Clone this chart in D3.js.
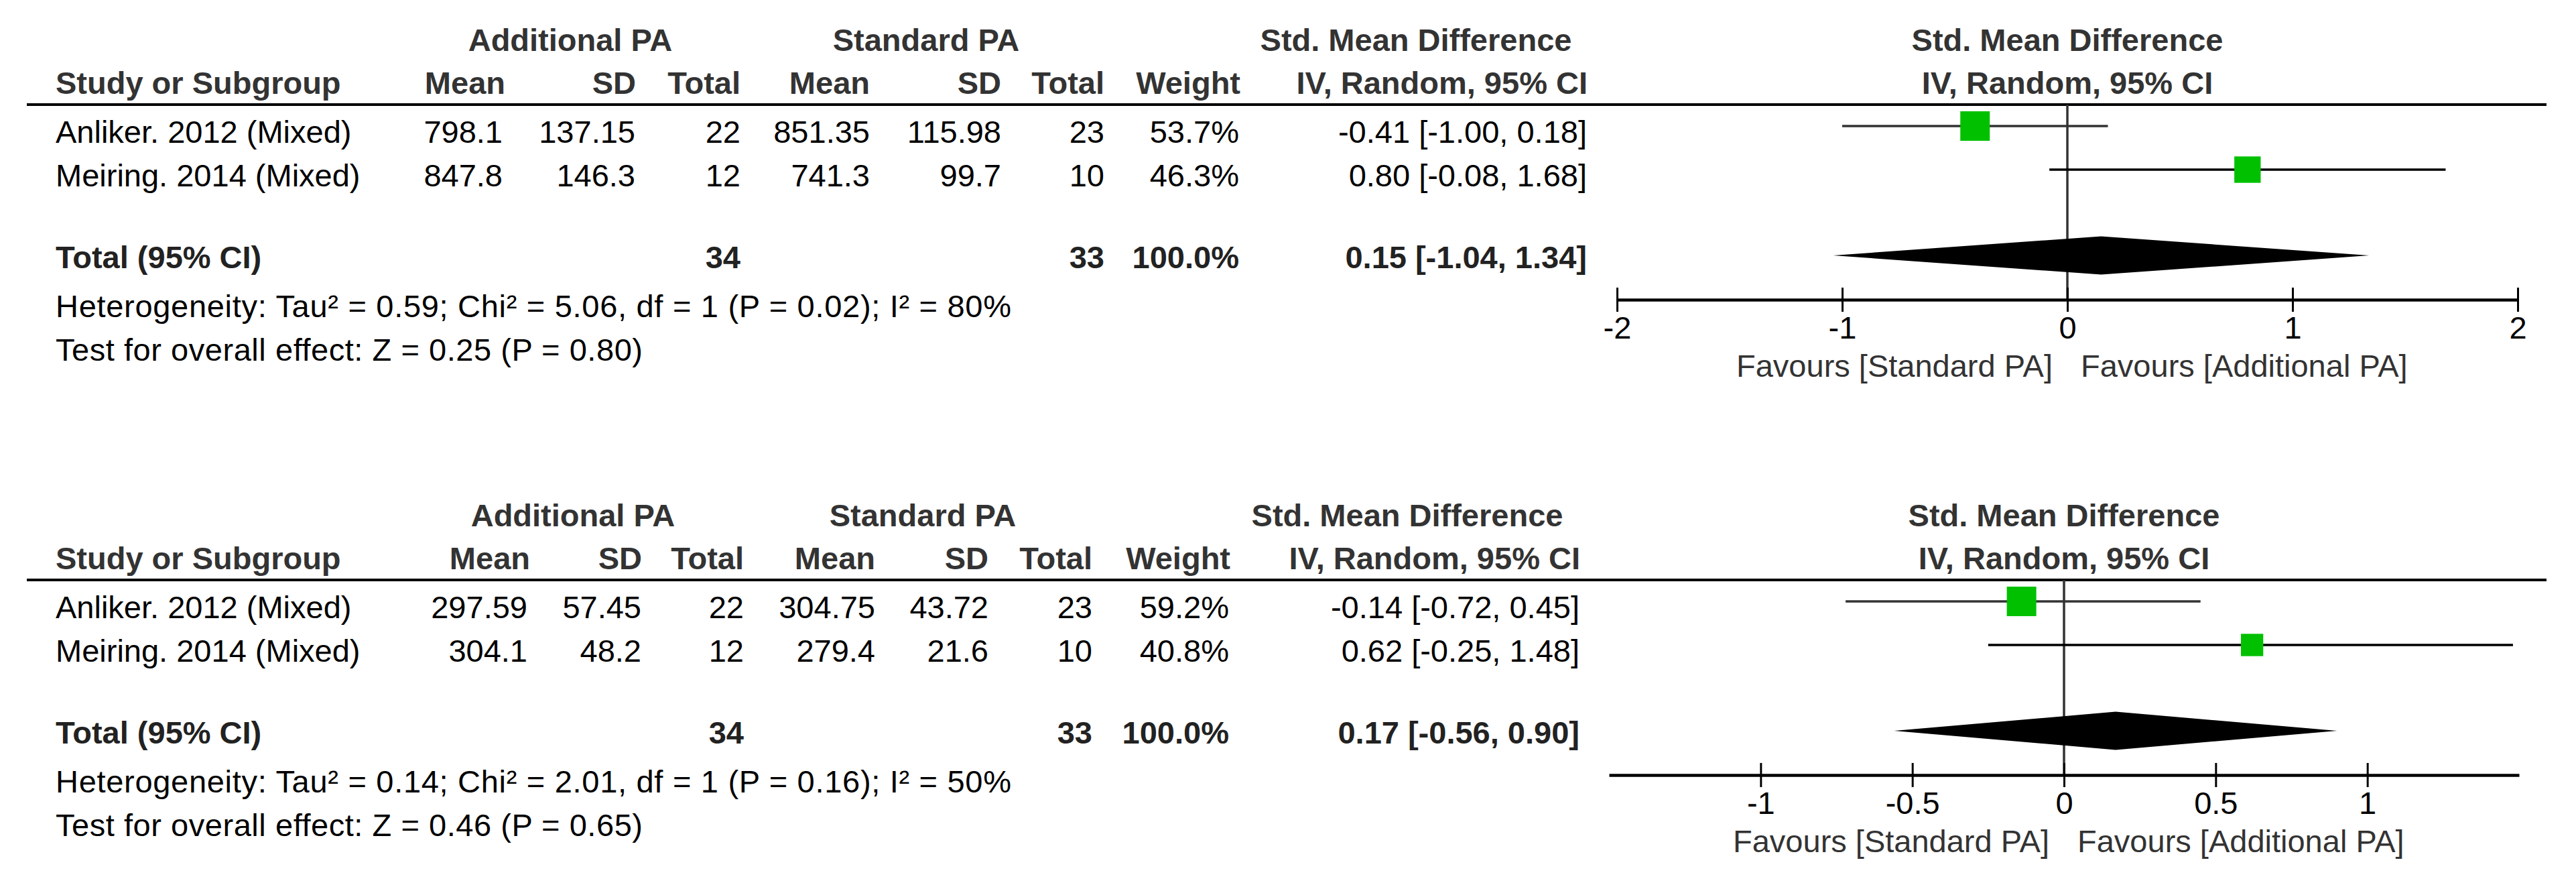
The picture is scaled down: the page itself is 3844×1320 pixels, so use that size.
<!DOCTYPE html>
<html>
<head>
<meta charset="utf-8">
<title>Forest plots</title>
<script src="https://cdn.jsdelivr.net/npm/d3@7"></script>
<style>
body { margin: 0; background: #fff; }
text { font-family: "Liberation Sans", Arial, sans-serif; font-size: 47px; }
.hd { font-weight: bold; fill: #333; }
.bd { font-weight: bold; fill: #222; }
.fav { fill: #333; }
</style>
</head>
<body>
<script>
// ---- data ----
var studies = ["Anliker. 2012 (Mixed)", "Meiring. 2014 (Mixed)"];

// first outcome
var addMean1 = [798.1, 847.8];
var addSD1 = [137.15, 146.3];
var addN1 = [22, 12];
var stdMean1 = [851.35, 741.3];
var stdSD1 = [115.98, 99.7];
var stdN1 = [23, 10];
var weight1 = [53.7, 46.3];
var smd1 = [-0.41, 0.80];
var lo1 = [-1.00, -0.08];
var hi1 = [0.18, 1.68];
var pooled1 = [0.15, -1.04, 1.34]; // est, lo, hi
var totals1 = [34, 33, 100.0];
var het1 = "Heterogeneity: Tau² = 0.59; Chi² = 5.06, df = 1 (P = 0.02); I² = 80%";
var test1 = "Test for overall effect: Z = 0.25 (P = 0.80)";
var ticks1 = [-2, -1, 0, 1, 2];
var domain1 = [-2, 2];

// second outcome
var addMean2 = [297.59, 304.1];
var addSD2 = [57.45, 48.2];
var addN2 = [22, 12];
var stdMean2 = [304.75, 279.4];
var stdSD2 = [43.72, 21.6];
var stdN2 = [23, 10];
var weight2 = [59.2, 40.8];
var smd2 = [-0.14, 0.62];
var lo2 = [-0.72, -0.25];
var hi2 = [0.45, 1.48];
var pooled2 = [0.17, -0.56, 0.90];
var totals2 = [34, 33, 100.0];
var het2 = "Heterogeneity: Tau² = 0.14; Chi² = 2.01, df = 1 (P = 0.16); I² = 50%";
var test2 = "Test for overall effect: Z = 0.46 (P = 0.65)";
var ticks2 = [-1, -0.5, 0, 0.5, 1];
var domain2 = [-1.5, 1.5];

var width = 3844, height = 1320;
var svg = d3.select('body').append('svg').attr('width', width).attr('height', height);
var loc = d3.formatLocale({decimal: '.', thousands: ',', grouping: [3], currency: ['', ''], minus: '-'});
var f2 = loc.format('.2f'), f1 = loc.format('.1f');

function drawPanel(p) {
	var g = svg.append('g').attr('transform', 'translate(0,' + p.dy + ')');
	var c = p.cols;

	// header rows
	function hd(txt, x, y, anchor) {
		g.append('text').attr('class', 'hd').attr('x', x).attr('y', y)
			.attr('text-anchor', anchor).text(txt);
	}
	hd('Additional PA', c.addC, 76, 'middle');
	hd('Standard PA', c.stdC, 76, 'middle');
	hd('Std. Mean Difference', c.smdC, 76, 'middle');
	hd('Std. Mean Difference', p.x(0), 76, 'middle');
	hd('Study or Subgroup', 83, 140, 'start');
	hd('Mean', c.am + 4, 140, 'end');
	hd('SD', c.as + 1, 140, 'end');
	hd('Total', c.an, 140, 'end');
	hd('Mean', c.sm, 140, 'end');
	hd('SD', c.ss, 140, 'end');
	hd('Total', c.sn, 140, 'end');
	hd('Weight', c.w + 2, 140, 'end');
	hd('IV, Random, 95% CI', c.ci + 1, 140, 'end');
	hd('IV, Random, 95% CI', p.x(0), 140, 'middle');

	g.append('line').attr('x1', 40).attr('x2', 3800).attr('y1', 156).attr('y2', 156)
		.attr('stroke', '#000').attr('stroke-width', 4);

	var y = d3.scalePoint().domain(studies).range([188, 253]);

	// study rows text
	var cells = [
		{v: p.am, x: c.am}, {v: p.as, x: c.as}, {v: p.an, x: c.an},
		{v: p.sm, x: c.sm}, {v: p.ss, x: c.ss}, {v: p.sn, x: c.sn}
	];
	studies.forEach(function(s, i) {
		var by = y(s) + 25;
		g.append('text').attr('x', 83).attr('y', by).text(s);
		cells.forEach(function(cl) {
			g.append('text').attr('x', cl.x).attr('y', by).attr('text-anchor', 'end').text(String(cl.v[i]));
		});
		g.append('text').attr('x', c.w).attr('y', by).attr('text-anchor', 'end').text(f1(p.w[i]) + '%');
		g.append('text').attr('x', c.ci).attr('y', by).attr('text-anchor', 'end')
			.text(f2(p.smd[i]) + ' [' + f2(p.lo[i]) + ', ' + f2(p.hi[i]) + ']');
	});

	// totals
	g.append('text').attr('class', 'bd').attr('x', 83).attr('y', 400).text('Total (95% CI)');
	g.append('text').attr('class', 'bd').attr('x', c.an).attr('y', 400).attr('text-anchor', 'end').text(p.tot[0]);
	g.append('text').attr('class', 'bd').attr('x', c.sn).attr('y', 400).attr('text-anchor', 'end').text(p.tot[1]);
	g.append('text').attr('class', 'bd').attr('x', c.w).attr('y', 400).attr('text-anchor', 'end').text(f1(p.tot[2]) + '%');
	g.append('text').attr('class', 'bd').attr('x', c.ci).attr('y', 400).attr('text-anchor', 'end')
		.text(f2(p.pooled[0]) + ' [' + f2(p.pooled[1]) + ', ' + f2(p.pooled[2]) + ']');
	g.append('text').attr('x', 83).attr('y', 473).attr('textLength', 1426).text(p.het);
	g.append('text').attr('x', 83).attr('y', 538).attr('textLength', 876).text(p.test);

	// forest
	var x = p.x;
	g.append('line').attr('x1', x(0)).attr('x2', x(0)).attr('y1', 156).attr('y2', 447)
		.attr('stroke', '#333').attr('stroke-width', 3.5);

	var lineCol = ['#333', '#000'];
	var maxW = d3.max(p.w);
	var box = d3.scalePow().exponent(0.75).domain([0, maxW]).range([0, 44]);
	g.selectAll('line.ci').data(studies).enter().append('line').attr('class', 'ci')
		.attr('x1', function(d, i) { return x(p.lo[i]); })
		.attr('x2', function(d, i) { return x(p.hi[i]); })
		.attr('y1', function(d) { return y(d); })
		.attr('y2', function(d) { return y(d); })
		.attr('stroke', function(d, i) { return lineCol[i]; })
		.attr('stroke-width', 3.5);
	g.selectAll('rect.box').data(studies).enter().append('rect').attr('class', 'box')
		.attr('x', function(d, i) { return x(p.smd[i]) - box(p.w[i]) / 2; })
		.attr('y', function(d, i) { return y(d) - box(p.w[i]) / 2; })
		.attr('width', function(d, i) { return box(p.w[i]); })
		.attr('height', function(d, i) { return box(p.w[i]); })
		.attr('fill', '#00c000');

	var dc = 381, dh = 28.5;
	var pts = [[x(p.pooled[1]), dc], [x(p.pooled[0]), dc - dh], [x(p.pooled[2]), dc], [x(p.pooled[0]), dc + dh]];
	g.append('path').attr('d', d3.line()(pts) + 'Z').attr('fill', '#000');

	var ax = g.append('g').attr('transform', 'translate(0,447)')
		.call(d3.axisBottom(x).tickValues(p.ticks).tickSizeInner(18).tickSizeOuter(0)
			.tickPadding(7).tickFormat(function(d) { return String(d); }));
	ax.attr('font-size', null).attr('font-family', null);
	ax.select('.domain').attr('stroke', '#000').attr('stroke-width', 4.5);
	ax.selectAll('.tick line').attr('y1', -18).attr('stroke', '#000').attr('stroke-width', 3);
	ax.selectAll('.tick text').attr('fill', '#000');

	g.append('text').attr('class', 'fav').attr('x', x(0) - 22).attr('y', 562).attr('text-anchor', 'end').text('Favours [Standard PA]');
	g.append('text').attr('class', 'fav').attr('x', x(0) + 20).attr('y', 562).attr('text-anchor', 'start').text('Favours [Additional PA]');
}

drawPanel({
	dy: 0,
	cols: {am: 750, as: 948, an: 1105, sm: 1298, ss: 1494, sn: 1648, w: 1849, ci: 2368, addC: 851, stdC: 1382, smdC: 2113},
	am: addMean1, as: addSD1, an: addN1, sm: stdMean1, ss: stdSD1, sn: stdN1,
	w: weight1, smd: smd1, lo: lo1, hi: hi1, pooled: pooled1, tot: totals1,
	het: het1, test: test1, ticks: ticks1,
	x: d3.scaleLinear().domain(domain1).range([2413, 3757])
});

drawPanel({
	dy: 709,
	cols: {am: 787, as: 957, an: 1110, sm: 1306, ss: 1475, sn: 1630, w: 1834, ci: 2357, addC: 855, stdC: 1377, smdC: 2100},
	am: addMean2, as: addSD2, an: addN2, sm: stdMean2, ss: stdSD2, sn: stdN2,
	w: weight2, smd: smd2, lo: lo2, hi: hi2, pooled: pooled2, tot: totals2,
	het: het2, test: test2, ticks: ticks2,
	x: d3.scaleLinear().domain(domain2).range([2401, 3759])
});
</script>
</body>
</html>
